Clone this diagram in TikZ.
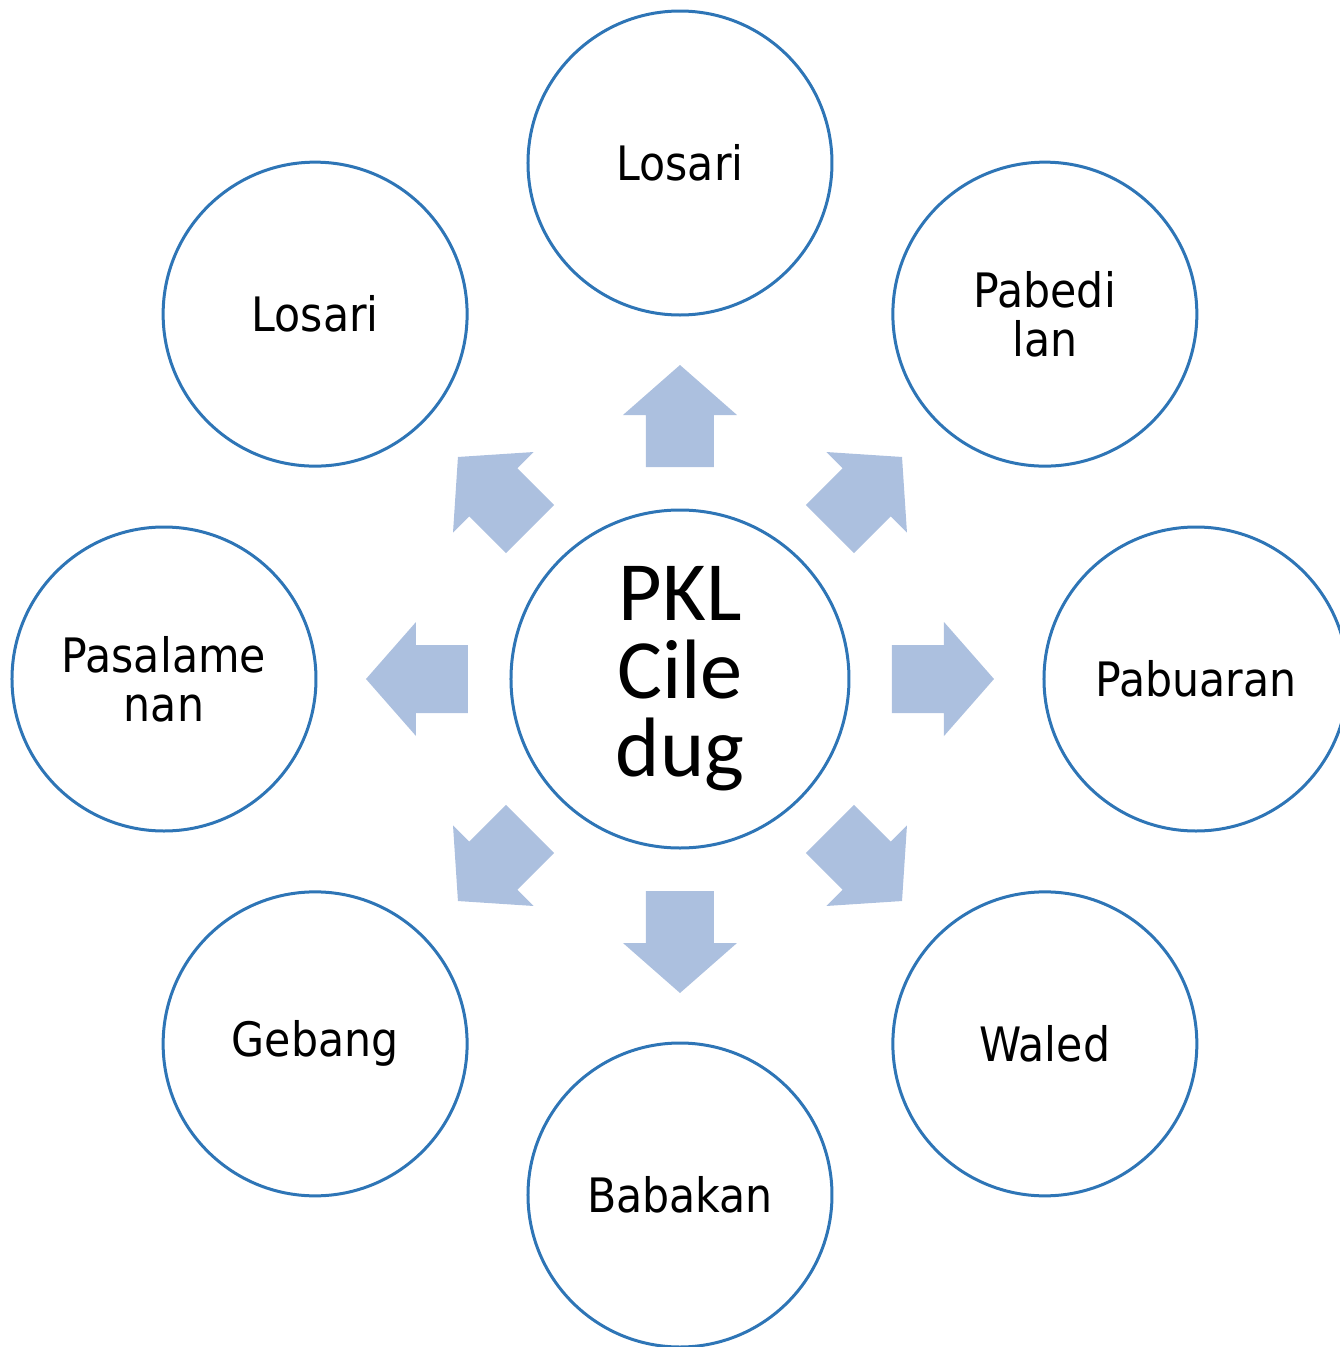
\documentclass[tikz,border=0pt]{standalone}
\usepackage{fontspec}
\setmainfont{DejaVu Sans Condensed}
\newfontfamily\hubfont{Carlito}
\usepackage{tikz}
\usetikzlibrary{positioning}
\usepackage{xcolor}

\definecolor{ringblue}{RGB}{46,117,182}
\definecolor{arrowblue}{RGB}{172,192,223}

\begin{document}
\begin{tikzpicture}[
    ring/.style={circle, draw=ringblue, line width=0.03cm, fill=white,
                 inner sep=0pt, align=center},
    place/.style={ring, minimum size=3.04cm,
                  font=\fontsize{13.5}{14}\selectfont},
    hub/.style={ring, minimum size=3.38cm,
                font=\hubfont\fontsize{24}{22.2}\selectfont},
    blockarrow/.style={fill=arrowblue},
]
\def\R{5.16}   % distance hub -> outer circles

% fix the page size
\useasboundingbox (-6.80,-6.68) rectangle (6.60,6.79);

% Centre
\node[hub] (pkl) at (0,0) {PKL\\Cile\\dug};

% Outer circles
\node[place] (losaritop)  at (90:\R)  {Losari};
\node[place] (pabedilan)  at (45:\R)  {Pabedi\\lan};
\node[place] (pabuaran)   at (0:\R)   {Pabuaran};
\node[place] (waled)      at (-45:\R) {Waled};
\node[place] (babakan)    at (-90:\R) {Babakan};
\node[place] (gebang)     at (-135:\R){Gebang};
\node[place] (pasalamenan)at (180:\R) {Pasalame\\nan};
\node[place] (losarileft) at (135:\R) {Losari};

% Block arrows between hub and circles
\foreach \a in {0,45,...,315} {
  \fill[blockarrow, rotate=\a]
    (2.12,-0.34) -- (2.64,-0.34) -- (2.64,-0.57) -- (3.14,0)
    -- (2.64,0.57) -- (2.64,0.34) -- (2.12,0.34) -- cycle;
}

\end{tikzpicture}
\end{document}
